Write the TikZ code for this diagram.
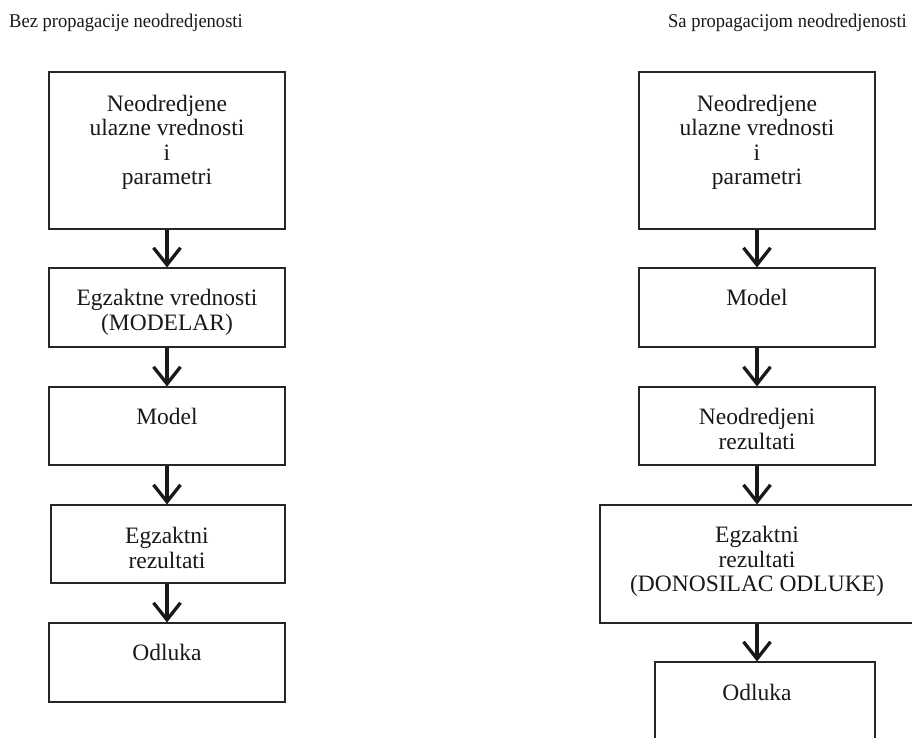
\documentclass[tikz,border=0pt]{standalone}
\usepackage{fontspec}
\setmainfont{Liberation Serif}
\newfontfamily\ttlfont[FakeStretch=0.95]{Liberation Serif}
\usetikzlibrary{arrows.meta,calc}
\begin{document}
\begin{tikzpicture}[x=1pt,y=-1pt,
  box/.style={draw=black!85, line width=1.1pt, rectangle, inner sep=0pt, minimum width=236pt},
  txt/.style={font=\fontsize{23.5}{24.5}\selectfont, align=center, inner sep=0pt, anchor=north, text=black!90},
  ttl/.style={font=\ttlfont\fontsize{19.5}{22}\selectfont, inner sep=0pt, text=black!90},
  flow/.style={line width=3.3pt, draw=black!90, -{Straight Barb[length=17pt,width=27pt]}}]
\useasboundingbox (0,0) rectangle (912,738);
\clip (0,0) rectangle (912,738);
\fill[white] (0,0) rectangle (912,738);

% titles
\node[ttl, anchor=base west] (tl) at (9,28) {Bez propagacije neodredjenosti};
\node[ttl, anchor=base east] (tr) at (907,28) {Sa propagacijom neodredjenosti};

% left column
\node[box, minimum height=157pt] (L1) at (167,150.5) {};
\node[box, minimum height=79pt] (L2) at (167,307.5) {};
\node[box, minimum height=78pt] (L3) at (167,426) {};
\node[box, minimum width=234pt, minimum height=78pt] (L4) at (168,544) {};
\node[box, minimum height=79pt] (L5) at (167,662.5) {};

\node[txt] (L1t) at ($(L1.north)+(0,23.5)$) {Neodredjene\\ulazne vrednosti\\i\\parametri};
\node[txt] (L2t) at ($(L2.north)+(0,22)$) {Egzaktne vrednosti\\(MODELAR)};
\node[txt] (L3t) at ($(L3.north)+(0,22)$) {Model};
\node[txt] (L4t) at ($(167,505)+(0,22)$) {Egzaktni\\rezultati};
\node[txt] (L5t) at ($(L5.north)+(0,22)$) {Odluka};

\coordinate (L4n) at (L3.south |- L4.north);
\draw[flow] (L1.south) -- (L2.north);
\draw[flow] (L2.south) -- (L3.north);
\draw[flow] (L3.south) -- (L4n);
\draw[flow] (L4.south -| L3.south) -- (L5.north);

% right column
\node[box, minimum height=157pt] (R1) at (757,150.5) {};
\node[box, minimum height=79pt] (R2) at (757,307.5) {};
\node[box, minimum height=78pt] (R3) at (757,426) {};
\node[box, minimum width=314pt, minimum height=118pt] (R4) at (757,564) {};
\node[box, minimum width=220pt, minimum height=84pt] (R5) at (765,704) {};

\node[txt] (R1t) at ($(R1.north)+(0,23.5)$) {Neodredjene\\ulazne vrednosti\\i\\parametri};
\node[txt] (R2t) at ($(R2.north)+(0,22)$) {Model};
\node[txt] (R3t) at ($(R3.north)+(0,22)$) {Neodredjeni\\rezultati};
\node[txt] (R4t) at ($(R4.north)+(0,22)$) {Egzaktni\\rezultati\\(DONOSILAC ODLUKE)};
\node[txt] (R5t) at ($(757,662)+(0,22)$) {Odluka};

\coordinate (R5n) at (R4.south |- R5.north);
\draw[flow] (R1.south) -- (R2.north);
\draw[flow] (R2.south) -- (R3.north);
\draw[flow] (R3.south) -- (R4.north);
\draw[flow] (R4.south) -- (R5n);
\end{tikzpicture}
\end{document}
